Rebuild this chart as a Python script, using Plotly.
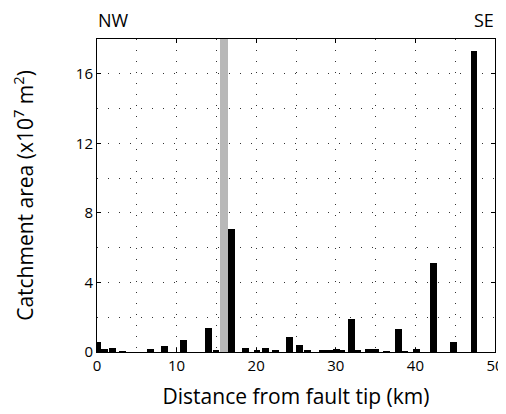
import plotly.graph_objects as go

# Distance along fault (km) and catchment area (x10^7 m^2)
distance_km = [0.1, 0.95, 1.95, 3.25, 6.7, 8.5, 10.85, 14.05, 14.95, 16.9,
               18.7, 20.1, 21.2, 22.45, 24.15, 25.45, 26.45, 28.35, 29.2, 30.05,
               30.75, 31.95, 32.7, 34.1, 35.0, 36.4, 37.85, 38.7, 40.15, 42.25,
               44.75, 47.35]
catchment_area = [0.55, 0.2, 0.22, 0.05, 0.15, 0.36, 0.67, 1.36, 0.1, 7.1,
                  0.22, 0.08, 0.22, 0.08, 0.85, 0.4, 0.1, 0.12, 0.08, 0.15,
                  0.08, 1.9, 0.12, 0.17, 0.2, 0.05, 1.3, 0.05, 0.15, 5.1,
                  0.55, 17.3]
# highlighted (grey) zone along the fault
grey_zone_km = [15.45, 16.45]
x_range = [0, 50]
y_range = [0, 18]
x_ticks = [0, 10, 20, 30, 40, 50]
y_ticks = [0, 4, 8, 12, 16]

FONT = "Open Sans"
GRID = "#333333"
DOTS = "1px,10px"

fig = go.Figure()
fig.add_trace(go.Bar(
    x=[(grey_zone_km[0] + grey_zone_km[1]) / 2],
    y=[y_range[1]],
    width=[grey_zone_km[1] - grey_zone_km[0]],
    marker=dict(color="#b8b8b8", line=dict(width=0)),
    showlegend=False,
))
fig.add_trace(go.Bar(
    x=distance_km,
    y=catchment_area,
    width=0.85,
    marker=dict(color="black", line=dict(width=0)),
    showlegend=False,
))

axis_common = dict(
    showline=True, linecolor="black", linewidth=1, mirror="allticks",
    ticks="inside", ticklen=4, tickcolor="black", tickwidth=1,
    showgrid=True, gridcolor=GRID, gridwidth=1, griddash=DOTS,
    zeroline=False, automargin=False,
    tickfont=dict(family=FONT, size=15, color="black"),
)

fig.update_xaxes(
    range=x_range, tickvals=x_ticks, ticktext=[str(v) for v in x_ticks],
    minor=dict(dtick=5, tick0=0, showgrid=True, gridcolor=GRID, gridwidth=1,
               griddash=DOTS, ticks=""),
    title=dict(text="Distance from fault tip (km)",
               font=dict(family=FONT, size=21, color="black"), standoff=15),
    **axis_common,
)
fig.update_yaxes(
    range=y_range, tickvals=y_ticks, ticktext=[str(v) for v in y_ticks],
    minor=dict(dtick=2, tick0=0, showgrid=True, gridcolor=GRID, gridwidth=1,
               griddash=DOTS, ticks=""),
    title=dict(text="Catchment area (x10<sup>7</sup> m<sup>2</sup>)",
               font=dict(family=FONT, size=21, color="black"), standoff=38),
    **axis_common,
)

fig.add_annotation(text="NW", x=0, y=1, xref="paper", yref="paper",
                   xanchor="left", yanchor="bottom", yshift=6, borderpad=0,
                   showarrow=False,
                   font=dict(family=FONT, size=18, color="black"))
fig.add_annotation(text="SE", x=1, y=1, xref="paper", yref="paper",
                   xanchor="right", yanchor="bottom", yshift=6, borderpad=0,
                   showarrow=False,
                   font=dict(family=FONT, size=18, color="black"))

fig.update_layout(
    width=506, height=414,
    margin=dict(l=89, r=19, t=31, b=70),
    paper_bgcolor="white", plot_bgcolor="white",
    barmode="overlay", bargap=0,
)

fig.write_html("out.html")
